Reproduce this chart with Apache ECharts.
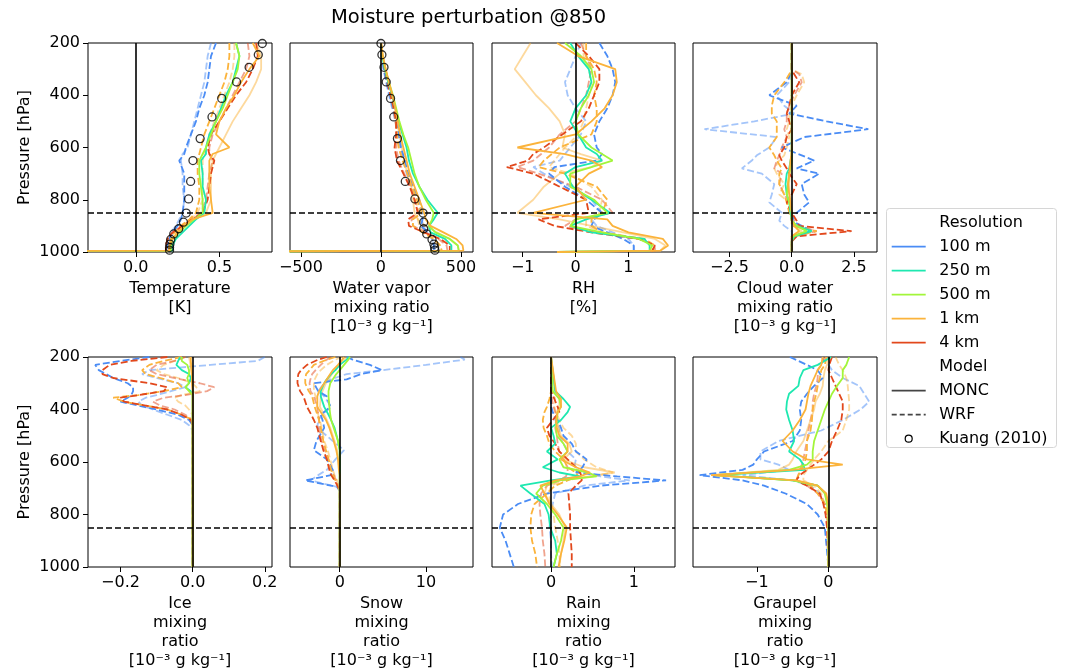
<!DOCTYPE html>
<html><head><meta charset="utf-8">
<script src="https://cdn.jsdelivr.net/npm/echarts@6/dist/echarts.min.js"></script>
<style>html,body{margin:0;padding:0;background:#fff}#c{width:1066px;height:671px}</style>
</head><body><div id="c"></div><script>
// ---------------- DATA ----------------
const RES = ['100 m','250 m','500 m','1 km','4 km'];
const MODELS = ['MONC','WRF'];
const OBS_NAME = 'Kuang (2010)';
const PERT_LEVEL = 850;
const UNIT = '[10\u207B\u00B3 g kg\u207B\u00B9]';

// Kuang (2010) reference profiles
const K_P = [202,245,293,349,412,483,566,650,730,797,851,886,911,931,952,970,983,993];
const K_T = [0.757,0.733,0.678,0.603,0.514,0.456,0.385,0.342,0.328,0.316,0.302,0.285,0.257,0.227,0.209,0.204,0.202,0.202];
const K_Q = [0,6,19,33,60,80,103,122,152,212,263,267,267,286,319,331,335,337];

// Temperature [K]
const P_T = [200,250,300,350,400,450,500,550,600,625,650,700,750,800,850,875,900,925,950,975,995,1000];
const T_W100  = [0.48,0.45,0.44,0.43,0.41,0.38,0.36,0.33,0.30,0.29,0.26,0.29,0.29,0.29,0.28,0.27,0.25,0.22,0.20,0.19,0.19,0.19];
const T_W100b = [0.45,0.43,0.42,0.41,0.39,0.37,0.35,0.33,0.31,0.28,0.27,0.28,0.28,0.29,0.28,0.26,0.24,0.21,0.20,0.19,0.19,0.19];
const T_W1k   = [0.56,0.56,0.55,0.53,0.50,0.47,0.44,0.41,0.39,0.38,0.37,0.37,0.38,0.38,0.36,0.32,0.27,0.23,0.21,0.20,0.20,0.20];
const T_W1kb  = [0.59,0.59,0.58,0.56,0.53,0.50,0.47,0.44,0.42,0.41,0.40,0.40,0.40,0.40,0.37,0.33,0.28,0.24,0.21,0.20,0.20,0.20];
const T_W4k   = [0.72,0.73,0.70,0.66,0.60,0.55,0.50,0.45,0.43,0.44,0.47,0.45,0.44,0.43,0.40,0.34,0.28,0.22,0.19,0.18,0.18,0.18];
const T_W4kb  = [0.67,0.68,0.66,0.62,0.58,0.54,0.50,0.46,0.44,0.44,0.46,0.44,0.43,0.42,0.39,0.33,0.27,0.22,0.19,0.18,0.18,0.18];
const T_M250  = [0.60,0.62,0.60,0.58,0.54,0.51,0.48,0.44,0.42,0.42,0.39,0.40,0.40,0.42,0.41,0.36,0.32,0.28,0.24,0.22,0.22,-3];
const T_M500  = [0.60,0.62,0.61,0.58,0.55,0.52,0.48,0.45,0.42,0.40,0.38,0.38,0.39,0.40,0.40,0.35,0.30,0.26,0.22,0.21,0.21,-3];
const T_M1k   = [0.70,0.74,0.68,0.63,0.59,0.54,0.50,0.48,0.56,0.46,0.44,0.44,0.44,0.45,0.46,0.34,0.29,0.25,0.22,0.20,0.20,-3];
const T_M1kb  = [0.72,0.75,0.75,0.72,0.68,0.63,0.58,0.54,0.50,0.48,0.46,0.45,0.45,0.45,0.42,0.36,0.30,0.25,0.22,0.20,0.20,-3];

// Water vapor mixing ratio
const P_Q = [200,250,300,350,400,450,500,550,600,650,700,750,800,850,875,900,925,950,975,995,1000];
const Q_W100  = [0,5,18,35,55,75,95,112,125,150,170,200,240,260,260,250,290,320,330,330,330];
const Q_W100b = [0,4,15,32,50,70,90,105,120,140,160,190,230,250,255,265,290,320,335,335,335];
const Q_W1k   = [0,8,25,42,60,80,95,100,110,135,165,195,225,255,200,200,260,330,370,380,380];
const Q_W1kb  = [0,8,24,40,58,75,90,100,115,140,170,200,215,240,230,240,280,330,360,370,370];
const Q_W4k   = [0,8,24,40,60,80,95,95,85,100,140,180,210,230,170,175,270,370,430,430,430];
const Q_W4kb  = [0,8,24,40,60,78,92,98,95,110,145,185,210,235,190,200,280,360,410,415,415];
const Q_M250  = [0,8,25,45,70,90,110,135,160,175,200,240,290,355,330,300,310,400,440,440,-2000];
const Q_M500  = [0,10,28,50,75,95,115,140,170,190,210,240,280,330,320,300,340,430,480,485,-2000];
const Q_M1k   = [2,12,30,50,72,90,105,120,140,160,180,210,240,270,280,310,390,470,510,515,-2000];
const Q_M1kb  = [2,12,30,48,70,88,100,115,130,145,165,190,200,210,230,280,350,430,480,490,-2000];

// RH [%]
const P_R = [200,250,300,350,400,450,500,550,600,625,650,675,700,750,800,850,875,900,925,950,975,995,1000];
const R_M1k   = [-0.35,0.05,0.75,0.78,0.70,0.55,0.30,0.00,-1.10,-0.20,0.30,0.50,0.25,0.00,0.20,-0.80,0.60,0.70,1.00,1.65,1.75,1.60,-0.35];
const R_M250  = [-0.10,0.05,0.25,0.30,0.20,0.00,-0.10,0.05,0.20,0.40,0.50,0.00,-0.20,-0.05,0.30,0.65,0.20,-0.10,0.30,1.30,1.40,1.40,-0.35];
const R_M500  = [-0.20,0.10,0.30,0.35,0.25,0.10,0.00,0.05,0.30,0.50,0.70,0.30,-0.10,-0.10,0.35,0.60,0.00,-0.10,0.50,1.20,1.45,1.40,-0.35];
const R_M1kb  = [-0.85,-1.00,-1.15,-0.95,-0.75,-0.50,-0.30,-0.20,-0.25,0.10,0.50,0.30,-0.30,-0.60,-0.80,-1.10,-0.30,0.30,0.90,1.50,1.70,1.60,-0.35];
const R_W100  = [0.45,0.60,0.70,0.75,0.70,0.60,0.45,0.35,0.40,0.50,0.40,-0.40,-0.50,-0.20,0.20,0.50,0.35,0.30,0.60,0.90,1.10,1.10,1.10];
const R_W100b = [0.10,0.00,-0.10,-0.20,-0.15,0.00,0.20,0.10,-0.10,-0.20,-0.30,-0.80,-0.60,-0.10,0.30,0.50,0.30,0.40,0.70,1.00,1.10,1.10,1.10];
const R_W4k   = [0.00,0.25,0.45,0.45,0.35,0.25,0.10,-0.25,-0.60,-0.80,-0.90,-1.30,-0.80,-0.30,0.20,0.25,-0.70,-0.40,0.30,1.20,1.50,1.45,1.45];
const R_W4kb  = [0.10,0.20,0.30,0.25,0.20,0.10,0.00,-0.30,-0.50,-0.65,-0.80,-1.10,-0.70,0.00,0.50,0.70,0.00,-0.20,0.40,1.20,1.50,1.50,1.50];
const R_W1k   = [0.20,0.20,0.35,0.40,0.35,0.40,0.40,0.30,-0.30,-0.45,-0.60,-0.70,-0.20,0.40,0.60,0.50,0.30,0.30,0.50,1.30,1.50,1.45,1.45];
const R_W1kb  = [0.15,0.15,0.25,0.30,0.25,0.20,0.15,0.05,-0.20,-0.30,-0.40,-0.50,-0.10,0.30,0.50,0.45,0.20,0.20,0.50,1.25,1.45,1.45,1.45];

// Cloud water mixing ratio
const P_C = [200,300,320,350,400,440,470,500,530,560,600,630,650,680,700,740,780,810,850,880,900,920,940,960,1000];
const C_W100  = [0,0,-0.05,-0.2,-0.9,0.2,-0.1,1.4,3.07,0.5,-0.4,0.4,0.9,0.2,1.1,0.4,0.5,0.7,0.2,0.0,0.4,0.8,0.0,0,0];
const C_W100b = [0,0,0,-0.1,-0.6,-0.3,0.1,-1.5,-3.5,-0.6,-0.9,-1.4,-1.6,-2.0,-1.2,-0.7,-0.8,-0.9,-0.4,-0.5,-0.3,0.0,0,0,0];
const C_W4k   = [0,0,0.1,0.3,0.0,-0.1,-0.2,-0.1,0.0,-0.2,-0.3,-0.5,-0.4,-0.2,-0.1,0.2,0.0,-0.2,0.0,0.2,0.3,2.4,0.2,0,0];
const C_W1k   = [0,0,-0.1,-0.3,-0.7,-0.8,-0.8,-0.6,-0.6,-0.6,-0.9,-0.7,-0.6,-0.4,-0.5,-0.5,-0.3,-0.2,-0.1,0.0,0.0,1.0,0.1,0,0];
const C_W4kb  = [0,0,0.3,0.4,0.1,-0.1,-0.2,-0.2,-0.3,-0.2,-0.4,-0.5,-0.6,-0.7,-0.4,-0.5,-0.3,-0.1,0.0,0.1,0.3,1.0,0.1,0,0];
const C_W1kb  = [0,0,0.4,0.5,0.2,0.0,-0.1,-0.1,-0.2,-0.1,-0.2,-0.3,-0.5,-0.7,-0.6,-0.3,-0.5,-0.1,0.0,0.0,0.2,0.6,0.0,0,0];
const C_M250  = [0,0,0,0,0,0,0,0,0,0,0,0,-0.05,-0.1,-0.2,-0.25,-0.2,-0.1,-0.05,0,0.2,0.8,0.1,0,0];
const C_M500  = [0,0,0,0,0,0,0,0,0,0,0,0,0,-0.05,-0.1,-0.15,-0.2,-0.1,0,0,0.2,0.6,0.05,0,0];
const C_M1k   = [0,0,0,0,0,0,0,0,0,0,0,-0.02,-0.05,-0.08,-0.1,-0.15,-0.1,-0.05,0,0,0.1,0.3,0,0,0];
const C_M1kb  = [0,0,0,0,0,0,0,0,0,0,0,0,-0.03,-0.05,-0.08,-0.1,-0.08,-0.03,0,0,0.1,0.4,0,0,0];

// Ice mixing ratio
const P_I = [200,215,230,250,265,280,300,315,330,345,355,370,385,400,420,440,460,480,1000];
const I_W100  = [-0.12,-0.2,-0.27,-0.26,-0.24,-0.22,-0.18,-0.165,-0.165,-0.17,-0.18,-0.2,-0.15,-0.1,-0.04,-0.01,0,0,0];
const I_W4k   = [-0.07,-0.17,-0.23,-0.25,-0.25,-0.22,-0.12,-0.07,-0.08,-0.15,-0.2,-0.19,-0.13,-0.07,-0.03,-0.005,0,0,0];
const I_W1k   = [-0.03,-0.08,-0.12,-0.14,-0.13,-0.09,-0.04,-0.03,-0.08,-0.15,-0.22,-0.19,-0.13,-0.07,-0.03,0,0,0,0];
const I_W100b = [0.2,0.18,0.05,-0.12,-0.14,-0.1,-0.04,-0.02,-0.06,-0.1,-0.13,-0.15,-0.14,-0.11,-0.07,-0.03,-0.01,0,0];
const I_W4kb  = [-0.02,-0.05,-0.1,-0.12,-0.1,-0.05,0.02,0.06,0.04,-0.02,-0.08,-0.11,-0.09,-0.05,-0.02,0,0,0,0];
const I_W1kb  = [-0.02,-0.05,-0.08,-0.1,-0.08,-0.04,0.0,0.01,0.02,-0.03,-0.05,-0.04,-0.02,-0.01,0,0,0,0,0];
const I_M250  = [-0.035,-0.04,-0.045,-0.03,-0.01,-0.005,-0.01,-0.02,-0.005,0,0,0,0,0,0,0,0,0,0];
const I_M500  = [-0.03,-0.03,-0.015,-0.01,-0.01,-0.015,-0.01,-0.02,-0.01,0,0,0,0,0,0,0,0,0,0];
const I_M1k   = [-0.005,-0.005,-0.004,-0.003,-0.002,-0.002,-0.002,-0.001,0,0,0,0,0,0,0,0,0,0,0];
const I_M1kb  = [-0.01,-0.008,-0.006,-0.004,-0.003,-0.002,-0.001,0,0,0,0,0,0,0,0,0,0,0,0];

// Snow mixing ratio
const P_S = [200,210,230,250,265,285,300,330,350,390,420,440,470,520,555,590,630,650,670,695,710,1000];
const S_W100b = [14.0,14.5,10,5,0.8,-1.0,-1.8,-2.5,-1.8,-1.0,-2.0,-2.5,-2.6,-0.8,0.5,-0.5,-1.5,-2.5,-3.4,-0.3,0,0];
const S_W100  = [0.8,1.5,3.5,4.9,2.5,0.8,-3.0,-2.5,-1.5,-1.1,-2.2,-2.0,-1.8,-2.7,-3.0,-1.5,-0.8,-1.0,-4.0,-0.3,0,0];
const S_W4k   = [-1.5,-2.5,-3.8,-4.5,-4.8,-4.9,-4.9,-4.6,-4.2,-3.8,-3.3,-3.0,-2.6,-2.2,-1.9,-1.5,-1.2,-1.0,-0.6,-0.2,0,0];
const S_W1k   = [-0.5,-1.5,-3.0,-3.5,-3.9,-4.0,-4.0,-3.6,-3.2,-2.9,-2.6,-2.4,-2.2,-1.9,-1.6,-1.3,-1.0,-0.8,-0.5,-0.2,0,0];
const S_W4kb  = [-1.0,-1.5,-2.2,-2.8,-3.2,-3.4,-3.5,-3.4,-3.0,-2.6,-2.5,-2.4,-2.4,-2.1,-1.7,-1.3,-0.9,-0.7,-0.4,-0.1,0,0];
const S_W1kb  = [0.3,-0.5,-1.5,-2.2,-2.6,-2.9,-3.0,-3.0,-2.8,-2.6,-2.5,-2.3,-2.1,-1.8,-1.4,-1.1,-0.8,-0.6,-0.3,-0.1,0,0];
const S_M250  = [1.1,0.8,0.0,-0.5,-1.0,-1.5,-1.8,-2.2,-2.2,-1.8,-1.3,-1.0,-0.6,-0.2,0,0,0,0,0,0,0,0];
const S_M500  = [1.2,1.0,0.5,0.0,-0.4,-0.8,-1.1,-1.3,-1.3,-1.2,-1.1,-1.0,-0.7,-0.2,0,0,0,0,0,0,0,0];
const S_M1k   = [0.5,0.3,-0.2,-0.8,-1.1,-1.5,-1.8,-2.4,-2.6,-2.6,-2.0,-1.6,-1.2,-0.7,-0.4,-0.2,-0.1,0,0,0,0,0];
const S_M1kb  = [0.8,0.5,0.0,-0.6,-0.9,-1.3,-1.6,-2.0,-2.2,-2.3,-1.8,-1.5,-1.1,-0.6,-0.3,-0.15,-0.05,0,0,0,0,0];

// Rain mixing ratio
const P_N = [200,330,360,390,410,440,470,500,530,560,590,620,640,655,670,690,720,760,800,850,900,950,1000];
const N_W100  = [0,0,0,0,0.02,0.08,0.12,0.15,0.25,0.3,0.43,0.38,0.3,0.8,1.39,0.6,-0.05,-0.4,-0.58,-0.62,-0.55,-0.5,-0.45];
const N_W100b = [0,0,0,0,0.02,0.05,0.1,0.1,0.15,0.2,0.3,0.28,0.35,0.6,0.95,0.4,0.05,0.02,0.0,-0.02,0.0,0.0,0.01];
const N_W4k   = [0,0,0.04,0.08,0.1,0.02,-0.05,-0.02,0.05,0.1,0.2,0.3,0.35,0.37,0.37,0.3,0.21,0.22,0.23,0.23,0.24,0.25,0.25];
const N_W1k   = [0,0,-0.02,-0.05,-0.08,-0.1,-0.09,-0.05,-0.02,0.05,0.15,0.2,0.3,0.33,0.2,0.05,-0.05,-0.2,-0.24,-0.25,-0.23,-0.19,-0.17];
const N_W4kb  = [0,0,0.01,0.03,0.05,0.06,0.05,0.07,0.08,0.1,0.15,0.2,0.2,0.18,0.1,-0.05,-0.12,-0.14,-0.13,-0.11,-0.1,-0.08,-0.07];
const N_W1kb  = [0,0.02,0.05,0.04,0.06,0.1,0.15,0.25,0.3,0.3,0.4,0.55,0.75,0.5,0.15,0.0,-0.03,0.0,0.03,0.05,0.08,0.1,0.11];
const N_M250  = [0,0.05,0.15,0.23,0.2,0.12,0.0,0.03,0.05,-0.05,0.08,-0.1,0.1,0.35,0.0,-0.37,-0.25,-0.08,-0.03,-0.01,0.05,0.07,0.03];
const N_M500  = [0,0.02,0.1,0.12,0.08,0.07,0.06,0.07,0.15,0.2,0.1,0.15,0.45,0.55,0.1,-0.1,-0.18,-0.05,0.05,0.15,0.12,0.07,0.03];
const N_M1k   = [0,0.06,0.12,0.12,0.08,0.06,0.07,0.1,0.2,0.2,0.12,0.3,0.47,0.35,0.05,-0.13,-0.08,-0.02,0.08,0.19,0.16,0.12,0.09];
const N_M1kb  = [0,0.05,0.1,0.1,0.07,0.07,0.09,0.12,0.22,0.25,0.15,0.4,0.77,0.45,0.1,-0.05,-0.08,0.0,0.1,0.17,0.15,0.12,0.1];

// Graupel mixing ratio
const P_G = [200,230,250,280,310,340,370,400,440,480,520,560,590,610,630,650,670,690,720,760,800,850,1000];
const G_M250  = [0.04,-0.15,-0.35,-0.4,-0.42,-0.55,-0.58,-0.59,-0.55,-0.5,-0.48,-0.55,-0.4,-0.35,-0.33,-1.55,-0.5,-0.15,-0.04,-0.01,0,0,0];
const G_W100  = [-0.54,-0.3,-0.15,-0.08,-0.2,-0.3,-0.38,-0.4,-0.38,-0.4,-0.5,-0.9,-1.0,-1.05,-1.2,-1.8,-1.2,-0.9,-0.6,-0.3,-0.15,-0.05,0];
const G_W100b = [-0.1,0.0,0.05,0.2,0.43,0.5,0.57,0.45,0.2,-0.1,-0.7,-0.95,-0.95,-0.7,-0.55,-1.2,-0.5,-0.25,-0.12,-0.05,-0.02,0,0];
const G_W4k   = [0.05,0.01,0.0,0.05,0.1,0.15,0.2,0.2,0.18,0.12,0.05,0.0,-0.1,-0.2,-0.3,-0.4,-0.45,-0.3,-0.12,-0.07,-0.04,-0.02,0];
const G_W4kb  = [-0.05,-0.1,-0.15,-0.15,-0.17,-0.2,-0.22,-0.22,-0.25,-0.28,-0.3,-0.33,-0.35,-0.37,-0.4,-0.42,-0.45,-0.3,-0.15,-0.05,-0.02,0,0];
const G_W1kb  = [0.1,0.15,0.2,0.25,0.27,0.28,0.29,0.29,0.25,0.2,0.0,-0.1,-0.2,-0.25,-0.3,-0.35,-0.35,-0.2,-0.1,-0.05,-0.02,0,0];
const G_W1k   = [-0.03,-0.05,-0.1,-0.12,-0.15,-0.17,-0.2,-0.22,-0.23,-0.25,-0.3,-0.3,-0.32,-0.35,-0.38,-0.42,-0.45,-0.25,-0.15,-0.05,-0.02,0,0];
const G_M500  = [0.29,0.25,0.2,0.2,0.12,0.05,0.0,-0.05,-0.1,-0.15,-0.2,-0.22,-0.22,-0.3,-0.55,-1.6,-0.5,-0.15,-0.05,-0.02,0,0,0];
const G_M1k   = [-0.08,-0.1,-0.15,-0.2,-0.25,-0.28,-0.3,-0.32,-0.4,-0.5,-0.64,-0.5,-0.3,0.2,-0.5,-1.64,-0.45,-0.15,-0.03,0,0,0,0];
const G_M1kb  = [0.0,-0.02,-0.05,-0.07,-0.08,-0.12,-0.18,-0.2,-0.25,-0.3,-0.35,-0.45,-0.5,-0.55,-0.7,-1.6,-0.45,-0.15,-0.05,-0.01,0,0,0];

// x-axis tick labels per panel
const TICKS_T = [0, 0.5], TICKS_Q = [-500, 0, 500], TICKS_R = [-1, 0, 1], TICKS_C = [-2.5, 0, 2.5];
const TICKS_I = [-0.2, 0, 0.2], TICKS_S = [0, 10], TICKS_N = [0, 1], TICKS_G = [-1, 0];
const Y_TICKS = [200, 400, 600, 800, 1000];

// ---------------- BUILD ----------------
const COLORS = ['#4a8cf5', '#1ee8b0', '#a2f53a', '#fbb33b', '#e2481c'];
const FONT = 'DejaVu Sans';
// style of each run: resolution index, model (0 MONC, 1 WRF), pale (second set, half opacity)
const RUNS = {
  W100b: [0, 1, true], W1kb: [3, 1, true], W4kb: [4, 1, true], M1kb: [3, 0, true],
  W100: [0, 1, false], W1k: [3, 1, false], W4k: [4, 1, false],
  M250: [1, 0, false], M500: [2, 0, false], M1k: [3, 0, false]
};
const PANELS = [
  {p: P_T, s: {W100:T_W100,W100b:T_W100b,W1k:T_W1k,W1kb:T_W1kb,W4k:T_W4k,W4kb:T_W4kb,M250:T_M250,M500:T_M500,M1k:T_M1k,M1kb:T_M1kb},
   min: -0.286, max: 0.815, ticks: TICKS_T, dec: 1, name: 'Temperature\n[K]', obs: K_T},
  {p: P_Q, s: {W100:Q_W100,W100b:Q_W100b,W1k:Q_W1k,W1kb:Q_W1kb,W4k:Q_W4k,W4kb:Q_W4kb,M250:Q_M250,M500:Q_M500,M1k:Q_M1k,M1kb:Q_M1kb},
   min: -568, max: 575, ticks: TICKS_Q, dec: 0, name: 'Water vapor\nmixing ratio\n' + UNIT, obs: K_Q},
  {p: P_R, s: {W100:R_W100,W100b:R_W100b,W1k:R_W1k,W1kb:R_W1kb,W4k:R_W4k,W4kb:R_W4kb,M250:R_M250,M500:R_M500,M1k:R_M1k,M1kb:R_M1kb},
   min: -1.58, max: 1.88, ticks: TICKS_R, dec: 0, name: 'RH\n[%]'},
  {p: P_C, s: {W100:C_W100,W100b:C_W100b,W1k:C_W1k,W1kb:C_W1kb,W4k:C_W4k,W4kb:C_W4kb,M250:C_M250,M500:C_M500,M1k:C_M1k,M1kb:C_M1kb},
   min: -3.96, max: 3.42, ticks: TICKS_C, dec: 1, name: 'Cloud water\nmixing ratio\n' + UNIT},
  {p: P_I, s: {W100:I_W100,W100b:I_W100b,W1k:I_W1k,W1kb:I_W1kb,W4k:I_W4k,W4kb:I_W4kb,M250:I_M250,M500:I_M500,M1k:I_M1k,M1kb:I_M1kb},
   min: -0.29, max: 0.22, ticks: TICKS_I, dec: 1, name: 'Ice\nmixing\nratio\n' + UNIT},
  {p: P_S, s: {W100:S_W100,W100b:S_W100b,W1k:S_W1k,W1kb:S_W1kb,W4k:S_W4k,W4kb:S_W4kb,M250:S_M250,M500:S_M500,M1k:S_M1k,M1kb:S_M1kb},
   min: -5.77, max: 15.46, ticks: TICKS_S, dec: 0, name: 'Snow\nmixing\nratio\n' + UNIT},
  {p: P_N, s: {W100:N_W100,W100b:N_W100b,W1k:N_W1k,W1kb:N_W1kb,W4k:N_W4k,W4kb:N_W4kb,M250:N_M250,M500:N_M500,M1k:N_M1k,M1kb:N_M1kb},
   min: -0.714, max: 1.498, ticks: TICKS_N, dec: 0, name: 'Rain\nmixing\nratio\n' + UNIT},
  {p: P_G, s: {W100:G_W100,W100b:G_W100b,W1k:G_W1k,W1kb:G_W1kb,W4k:G_W4k,W4kb:G_W4kb,M250:G_M250,M500:G_M500,M1k:G_M1k,M1kb:G_M1kb},
   min: -1.893, max: 0.679, ticks: TICKS_G, dec: 0, name: 'Graupel\nmixing\nratio\n' + UNIT}
];

const COL_LEFT = [88, 290, 492, 693], COL_W = [184, 183, 183, 184];
const ROW_TOP = [43, 357], ROW_H = [209, 210];
const fmt = dec => v => (dec > 0 ? v.toFixed(dec) : String(Math.round(v))).replace('-', '\u2212');

const grids = [], xAxes = [], yAxes = [], series = [];
PANELS.forEach((pn, i) => {
  const col = i % 4, row = Math.floor(i / 4);
  grids.push({left: COL_LEFT[col], top: ROW_TOP[row], width: COL_W[col], height: ROW_H[row],
    show: true, borderColor: '#000', borderWidth: 1, backgroundColor: 'rgba(0,0,0,0)', containLabel: false});
  xAxes.push({type: 'value', gridIndex: i, min: pn.min, max: pn.max, position: 'bottom',
    axisLine: {show: false, onZero: false}, splitLine: {show: false},
    axisTick: {show: true, customValues: pn.ticks, length: 5, lineStyle: {color: '#000', width: 1}},
    axisLabel: {show: true, customValues: pn.ticks, formatter: fmt(pn.dec), fontSize: 16, color: '#000', margin: 8, fontFamily: FONT},
    name: pn.name, nameLocation: 'middle', nameGap: 27,
    nameTextStyle: {fontSize: 16, lineHeight: 19, color: '#000', fontFamily: FONT}});
  yAxes.push({type: 'value', gridIndex: i, inverse: true, min: Y_TICKS[0], max: Y_TICKS[Y_TICKS.length - 1], interval: 200,
    position: 'left',
    axisLine: {show: false, onZero: false}, splitLine: {show: false},
    axisTick: {show: col === 0, length: 5, lineStyle: {color: '#000', width: 1}},
    axisLabel: {show: col === 0, fontSize: 16, color: '#000', margin: 8, fontFamily: FONT, formatter: v => String(v)},
    name: col === 0 ? 'Pressure [hPa]' : '', nameLocation: 'middle', nameGap: 55,
    nameTextStyle: {fontSize: 16, color: '#000', fontFamily: FONT}});
  let first = true;
  Object.keys(RUNS).forEach(k => {
    const [ri, model, pale] = RUNS[k];
    const vals = pn.s[k];
    const s = {
      type: 'line', name: 'p' + i + '_' + k, xAxisIndex: i, yAxisIndex: i,
      data: pn.p.map((pp, j) => [vals[j], pp]),
      symbol: 'none', showSymbol: false, silent: true, animation: false, clip: true,
      lineStyle: {color: COLORS[ri], width: 1.8, type: model === 1 ? [7, 3] : 'solid', opacity: pale ? 0.5 : 1},
      z: pale ? 2 : (model === 1 ? 3 : 4)
    };
    if (first) {
      s.markLine = {silent: true, symbol: ['none', 'none'], label: {show: false}, animation: false,
        data: [
          {xAxis: 0, lineStyle: {color: '#000', width: 1.6, type: 'solid'}},
          {yAxis: PERT_LEVEL, lineStyle: {color: '#000', width: 1.6, type: [6, 3]}}
        ]};
      first = false;
    }
    series.push(s);
  });
  if (pn.obs) {
    series.push({type: 'scatter', name: 'obs' + i, xAxisIndex: i, yAxisIndex: i,
      data: K_P.map((pp, j) => [pn.obs[j], pp]), symbol: 'circle', symbolSize: 8,
      itemStyle: {color: 'rgba(0,0,0,0)', borderColor: '#000', borderWidth: 1.3},
      silent: true, animation: false, z: 6});
  }
});

// legend (drawn as graphic)
const LG = {x: 886, y: 208, w: 170, h: 239, row0: 222.7, pitch: 24.0, ix: 891.7, iw: 34, tx: 939.3};
const legendRows = [
  {text: 'Resolution'},
  ...RES.map((r, i) => ({text: r, color: COLORS[i]})),
  {text: 'Model'},
  {text: MODELS[0], color: '#444'},
  {text: MODELS[1], color: '#444', dash: [5, 3]},
  {text: OBS_NAME, marker: true}
];
const gEls = [{type: 'rect', shape: {x: LG.x + 0.5, y: LG.y + 0.5, width: LG.w, height: LG.h, r: 3},
  style: {fill: '#fff', stroke: '#d6d6d6', lineWidth: 1}, z: 10}];
legendRows.forEach((r, k) => {
  const yc = LG.row0 + k * LG.pitch;
  if (r.color) gEls.push({type: 'line', shape: {x1: LG.ix, y1: yc, x2: LG.ix + LG.iw, y2: yc},
    style: {stroke: r.color, lineWidth: 1.8, lineDash: r.dash || null}, z: 11});
  if (r.marker) gEls.push({type: 'circle', shape: {cx: LG.ix + LG.iw / 2, cy: yc, r: 3.5},
    style: {fill: 'none', stroke: '#000', lineWidth: 1.2}, z: 11});
  gEls.push({type: 'text', x: LG.tx, y: yc, style: {text: r.text, fontSize: 16, fontFamily: FONT, fill: '#000',
    verticalAlign: 'middle', align: 'left'}, z: 11});
});

const chart = echarts.init(document.getElementById('c'), null, {renderer: 'canvas'});
chart.setOption({
  animation: false,
  textStyle: {fontFamily: FONT},
  title: {text: 'Moisture perturbation @850', left: 331, top: 8, padding: 0,
    textStyle: {fontSize: 19.5, fontWeight: 'normal', color: '#000', fontFamily: FONT}},
  grid: grids, xAxis: xAxes, yAxis: yAxes, series: series,
  graphic: gEls
});
</script></body></html>
